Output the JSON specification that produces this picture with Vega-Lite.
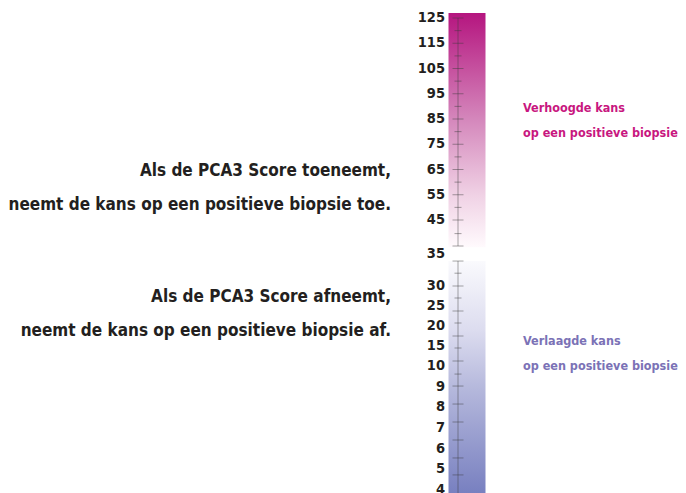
{
  "$schema": "https://vega.github.io/schema/vega-lite/v6.json",
  "width": 686,
  "height": 493,
  "padding": 0,
  "autosize": "none",
  "background": "white",
  "datasets": {
    "scores": [
      {"score": 125}, {"score": 115}, {"score": 105}, {"score": 95}, {"score": 85},
      {"score": 75}, {"score": 65}, {"score": 55}, {"score": 45}, {"score": 35},
      {"score": 30}, {"score": 25}, {"score": 20}, {"score": 15}, {"score": 10},
      {"score": 9}, {"score": 8}, {"score": 7}, {"score": 6}, {"score": 5}, {"score": 4}
    ],
    "balken": [
      {"segment": "hoog", "van": 37.0, "tot": 127.0},
      {"segment": "laag", "van": 3.85, "tot": 33.9}
    ],
    "lijnen": [
      {"segment": "hoog", "van": 37.35, "tot": 125},
      {"segment": "laag", "van": 3.85, "tot": 33.9}
    ],
    "streepjes": [
      {"pos": 125, "soort": "groot"}, {"pos": 120, "soort": "klein"},
      {"pos": 115, "soort": "groot"}, {"pos": 110, "soort": "klein"},
      {"pos": 105, "soort": "groot"}, {"pos": 100, "soort": "klein"},
      {"pos": 95, "soort": "groot"}, {"pos": 90, "soort": "klein"},
      {"pos": 85, "soort": "groot"}, {"pos": 80, "soort": "klein"},
      {"pos": 75, "soort": "groot"}, {"pos": 70, "soort": "klein"},
      {"pos": 65, "soort": "groot"}, {"pos": 60, "soort": "klein"},
      {"pos": 55, "soort": "groot"}, {"pos": 50, "soort": "klein"},
      {"pos": 45, "soort": "groot"}, {"pos": 41.0, "soort": "klein"},
      {"pos": 37.35, "soort": "groot"},
      {"pos": 33.9, "soort": "groot"}, {"pos": 32.0, "soort": "klein"},
      {"pos": 30, "soort": "groot"}, {"pos": 27, "soort": "klein"},
      {"pos": 23.75, "soort": "groot"}, {"pos": 20.75, "soort": "klein"},
      {"pos": 17.5, "soort": "groot"}, {"pos": 14.5, "soort": "klein"},
      {"pos": 11.25, "soort": "groot"}, {"pos": 9.61, "soort": "klein"},
      {"pos": 9.03, "soort": "groot"}, {"pos": 8.16, "soort": "groot"},
      {"pos": 7.29, "soort": "groot"}, {"pos": 6.42, "soort": "groot"},
      {"pos": 5.55, "soort": "groot"}, {"pos": 4.73, "soort": "groot"}
    ],
    "uitleg": [
      {"tekst": "Als de PCA3 Score toeneemt,\nneemt de kans op een positieve biopsie toe.", "score": 64.4},
      {"tekst": "Als de PCA3 Score afneemt,\nneemt de kans op een positieve biopsie af.", "score": 27.2}
    ],
    "kans": [
      {"tekst": "Verhoogde kans\nop een positieve biopsie", "groep": "hoog", "score": 89.4},
      {"tekst": "Verlaagde kans\nop een positieve biopsie", "groep": "laag", "score": 16.25}
    ]
  },
  "layer": [
    {
      "data": {"name": "balken"},
      "transform": [{"filter": "datum.segment === 'hoog'"}],
      "mark": {
        "type": "bar",
        "width": 37,
        "fill": {
          "gradient": "linear", "x1": 0, "y1": 0, "x2": 0, "y2": 1,
          "stops": [
            {"offset": 0, "color": "#b5157f"},
            {"offset": 0.45, "color": "#d486bb"},
            {"offset": 0.78, "color": "#f0d2e5"},
            {"offset": 1, "color": "#fffafd"}
          ]
        }
      },
      "encoding": {
        "x": {"datum": "schaal", "type": "nominal", "scale": {"type": "band", "domain": ["uitleg", "schaal", "kans"], "range": [383, 551], "paddingInner": 0, "paddingOuter": 0}},
        "y": {"field": "van", "type": "quantitative", "scale": {"domain": [4, 10, 30, 35, 45, 125], "range": [490, 366, 286, 254, 220, 18], "nice": false, "zero": false}},
        "y2": {"field": "tot"}
      }
    },
    {
      "data": {"name": "balken"},
      "transform": [{"filter": "datum.segment === 'laag'"}],
      "mark": {
        "type": "bar",
        "width": 37,
        "fill": {
          "gradient": "linear", "x1": 0, "y1": 0, "x2": 0, "y2": 1,
          "stops": [
            {"offset": 0, "color": "#fafafd"},
            {"offset": 0.3, "color": "#dcdcef"},
            {"offset": 0.55, "color": "#b5b8dc"},
            {"offset": 1, "color": "#7880c0"}
          ]
        }
      },
      "encoding": {
        "x": {"datum": "schaal", "type": "nominal"},
        "y": {"field": "van", "type": "quantitative"},
        "y2": {"field": "tot"}
      }
    },
    {
      "data": {"name": "lijnen"},
      "mark": {"type": "rule", "xOffset": -9, "color": "#3a3a3a", "opacity": 0.45, "strokeWidth": 1},
      "encoding": {
        "x": {"datum": "schaal", "type": "nominal"},
        "y": {"field": "van", "type": "quantitative"},
        "y2": {"field": "tot"}
      }
    },
    {
      "data": {"name": "streepjes"},
      "mark": {"type": "tick", "orient": "horizontal", "thickness": 1, "xOffset": -9, "color": "#3a3a3a", "opacity": 0.45},
      "encoding": {
        "x": {"datum": "schaal", "type": "nominal"},
        "y": {"field": "pos", "type": "quantitative"},
        "size": {"field": "soort", "type": "ordinal", "scale": {"domain": ["groot", "klein"], "range": [11, 7]}, "legend": null}
      }
    },
    {
      "data": {"name": "scores"},
      "mark": {"type": "text", "align": "right", "baseline": "middle", "dx": -22, "font": "'DejaVu Sans Condensed', Roboto, sans-serif", "fontWeight": "bold", "fontSize": 14.5, "color": "#231f20"},
      "encoding": {
        "x": {"datum": "schaal", "type": "nominal"},
        "y": {"field": "score", "type": "quantitative"},
        "text": {"field": "score", "type": "quantitative"}
      }
    },
    {
      "data": {"name": "uitleg"},
      "mark": {"type": "text", "align": "right", "baseline": "middle", "dx": -20, "lineBreak": "\n", "lineHeight": 34, "font": "'DejaVu Sans Condensed', Roboto, sans-serif", "fontWeight": "bold", "fontSize": 17, "color": "#231f20"},
      "encoding": {
        "x": {"datum": "uitleg", "type": "nominal"},
        "y": {"field": "score", "type": "quantitative"},
        "text": {"field": "tekst", "type": "nominal"}
      }
    },
    {
      "data": {"name": "kans"},
      "mark": {"type": "text", "align": "left", "baseline": "middle", "dx": 0, "lineBreak": "\n", "lineHeight": 25, "font": "'DejaVu Sans Condensed', Roboto, sans-serif", "fontWeight": "bold", "fontSize": 12.5},
      "encoding": {
        "x": {"datum": "kans", "type": "nominal"},
        "y": {"field": "score", "type": "quantitative"},
        "text": {"field": "tekst", "type": "nominal"},
        "color": {"field": "groep", "type": "nominal", "scale": {"domain": ["hoog", "laag"], "range": ["#c8177f", "#7b72b6"]}, "legend": null}
      }
    }
  ],
  "resolve": {"scale": {"x": "shared", "y": "shared"}},
  "config": {"view": {"stroke": null}, "axis": {"disable": true}}
}
